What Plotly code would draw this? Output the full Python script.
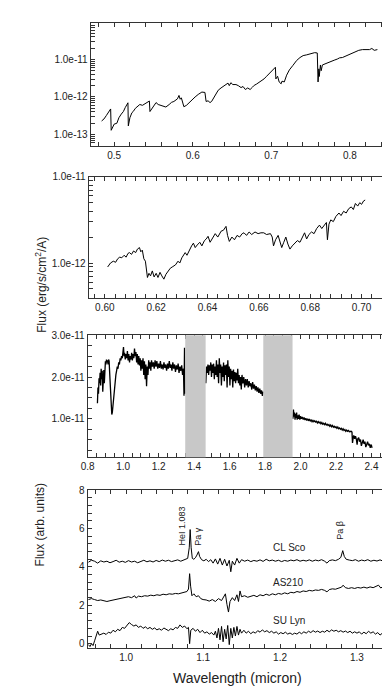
import plotly.graph_objects as go

# ---- panel 1: optical spectrum (micron, 1e-12 erg/s/cm2/A) ----
wl1 = [0.484, 0.487, 0.490, 0.493, 0.4955, 0.4962, 0.498, 0.500, 0.5034, 0.506, 0.509, 0.5117,
       0.514, 0.516, 0.5175, 0.518, 0.520, 0.5225, 0.5242, 0.527, 0.530, 0.5326, 0.536, 0.539,
       0.542, 0.5448, 0.5455, 0.548, 0.551, 0.5533, 0.556, 0.560, 0.5658, 0.570, 0.573, 0.576,
       0.5783, 0.5805, 0.5825, 0.584, 0.5855, 0.5887, 0.592, 0.596, 0.599, 0.603, 0.607, 0.6116,
       0.6155, 0.617, 0.6195, 0.622, 0.624, 0.628, 0.6324, 0.636, 0.639, 0.642, 0.6449, 0.6465,
       0.6485, 0.651, 0.655, 0.658, 0.6615, 0.664, 0.667, 0.670, 0.673, 0.676, 0.6782, 0.681,
       0.684, 0.687, 0.6907, 0.694, 0.697, 0.700, 0.703, 0.7052, 0.7058, 0.708, 0.710, 0.7125,
       0.7136, 0.7165, 0.7195, 0.723, 0.7275, 0.7322, 0.7365, 0.7405, 0.745, 0.750, 0.7552,
       0.7585, 0.7595, 0.7605, 0.761, 0.7625, 0.7635, 0.765, 0.768, 0.771, 0.7739, 0.777, 0.780,
       0.784, 0.787, 0.7905, 0.795, 0.800, 0.805, 0.8113, 0.816, 0.821, 0.825, 0.828, 0.831, 0.835]
f1 = [0.23, 0.26, 0.32, 0.40, 0.48, 0.13, 0.16, 0.19, 0.20, 0.28, 0.35, 0.41,
      0.52, 0.63, 0.70, 0.17, 0.28, 0.38, 0.41, 0.50, 0.56, 0.63, 0.60, 0.66,
      0.69, 0.78, 0.41, 0.50, 0.60, 0.71, 0.63, 0.58, 0.54, 0.63, 0.72, 0.76,
      0.81, 0.89, 1.10, 0.87, 0.95, 0.55, 0.60, 0.74, 0.81, 1.00, 1.17, 1.35,
      1.32, 0.76, 0.79, 0.71, 0.76, 1.10, 1.51, 1.74, 1.90, 2.09, 2.34, 2.00,
      2.40, 2.14, 2.14, 2.00, 1.78, 1.90, 1.58, 1.74, 1.58, 1.82, 2.04, 2.19,
      2.40, 2.63, 3.02, 3.55, 4.17, 4.68, 5.37, 6.17, 3.02, 3.55, 2.51, 2.24,
      2.63, 2.51, 3.80, 5.25, 6.92, 9.33, 11.2, 12.6, 13.2, 13.8, 15.1,
      14.8, 2.51, 5.6, 3.5, 7.1, 5.0, 7.1, 7.6, 7.9, 8.3, 8.9, 9.5,
      10.2, 11.0, 11.2, 12.3, 13.5, 15.1, 17.4, 18.2, 18.6, 18.2, 19.5, 17.4, 18.2]

# ---- panel 2: zoom 0.60-0.70 micron (1e-12 erg/s/cm2/A) ----
wl2 = [0.6011, 0.6022, 0.6033, 0.6042, 0.6050, 0.6058, 0.6066, 0.6075, 0.6083, 0.6090, 0.6096,
       0.6104, 0.6112, 0.6120, 0.6127, 0.6135, 0.6140, 0.6146, 0.6152, 0.6158, 0.6166, 0.6172,
       0.6178, 0.6185, 0.6192, 0.6200, 0.6207, 0.6215, 0.6222, 0.6230, 0.6238, 0.6245, 0.6255,
       0.6265, 0.6275, 0.6285, 0.6292, 0.6300, 0.6308, 0.6313, 0.6320, 0.6330, 0.6338, 0.6345,
       0.6352, 0.6360, 0.6370, 0.6378, 0.6388, 0.6395, 0.6402, 0.6410, 0.6420, 0.6430, 0.6440,
       0.6453, 0.6462, 0.6472, 0.6478, 0.6485, 0.6495, 0.6505, 0.6515, 0.6525, 0.6535, 0.6542,
       0.6552, 0.6562, 0.6572, 0.6585, 0.6597, 0.6608, 0.6619, 0.6630, 0.6645, 0.6652, 0.6657,
       0.6665, 0.6675, 0.6683, 0.6689, 0.6697, 0.6705, 0.6713, 0.6721, 0.6730, 0.6740, 0.6750,
       0.6760, 0.6770, 0.6778, 0.6786, 0.6795, 0.6805, 0.6815, 0.6825, 0.6836, 0.6845, 0.6855,
       0.6863, 0.6867, 0.6873, 0.6880, 0.6890, 0.6900, 0.6912, 0.6920, 0.6930, 0.6940, 0.6950,
       0.6960, 0.6968, 0.6976, 0.6985, 0.6993, 0.7000, 0.7008, 0.7014]
f2 = [0.90, 1.00, 1.05, 1.02, 1.12, 1.17, 1.15, 1.23, 1.17, 1.29, 1.32,
      1.26, 1.38, 1.32, 1.45, 1.51, 1.35, 1.41, 1.12, 1.05, 0.68, 0.76,
      0.71, 0.81, 0.69, 0.76, 0.68, 0.78, 0.71, 0.65, 0.74, 0.79, 0.87,
      0.91, 0.95, 1.05, 1.00, 1.15, 1.26, 1.32, 1.23, 1.45, 1.58, 1.70,
      1.51, 1.62, 1.74, 1.58, 1.82, 1.90, 2.04, 1.74, 1.95, 2.19, 2.00,
      2.34, 2.40, 2.66, 2.09, 1.78, 2.00, 1.86, 2.09, 2.00, 2.19, 2.24,
      2.09, 2.29, 2.14, 2.29, 2.19, 2.24, 2.24, 2.14, 2.19, 2.00, 1.58,
      1.86, 2.09, 1.74, 1.51, 1.74, 2.00, 1.66, 1.45, 1.58, 1.70, 1.82,
      1.74, 2.00, 2.24, 1.90, 2.14, 2.29, 2.19, 2.51, 2.75, 2.51, 2.75,
      2.95, 1.86, 2.82, 3.16, 3.02, 3.47, 3.80, 3.55, 3.98, 3.80, 4.27,
      4.47, 4.17, 4.90, 4.57, 5.01, 4.79, 5.25, 5.37]

# ---- panel 3: near-IR spectrum (1e-11 erg/s/cm2/A), None = telluric gaps ----
wl3 = [0.855, 0.858, 0.861, 0.864, 0.867, 0.870, 0.873, 0.876, 0.879, 0.882, 0.885, 0.888,
       0.891, 0.894, 0.897, 0.900, 0.903, 0.906, 0.909, 0.912, 0.915, 0.918, 0.921, 0.924,
       0.927, 0.930, 0.933, 0.936, 0.939, 0.942, 0.945, 0.948, 0.951, 0.955, 0.959, 0.963,
       0.967, 0.971, 0.975, 0.979, 0.983, 0.987, 0.991, 0.995, 0.999, 1.002, 1.005, 1.008,
       1.012, 1.016, 1.020, 1.024, 1.028, 1.032, 1.036, 1.040, 1.044, 1.048, 1.052, 1.056,
       1.060, 1.064, 1.068, 1.072, 1.076, 1.080, 1.084, 1.088, 1.092, 1.096, 1.100, 1.104,
       1.108, 1.112, 1.116, 1.120, 1.124, 1.128, 1.132, 1.136, 1.140, 1.144, 1.148, 1.152,
       1.156, 1.160, 1.165, 1.170, 1.175, 1.180, 1.185, 1.190, 1.195, 1.200, 1.205, 1.210,
       1.215, 1.220, 1.225, 1.230, 1.235, 1.240, 1.245, 1.250, 1.255, 1.260, 1.265, 1.270,
       1.275, 1.280, 1.285, 1.290, 1.295, 1.300, 1.305, 1.310, 1.315, 1.320, 1.325, 1.330,
       1.335, 1.340, 1.343, 1.346, 1.348, None,
       1.466, 1.470, 1.474, 1.478, 1.482, 1.486, 1.490, 1.494, 1.498, 1.502, 1.506, 1.510,
       1.514, 1.518, 1.522, 1.526, 1.530, 1.534, 1.538, 1.542, 1.546, 1.550, 1.554, 1.558,
       1.562, 1.566, 1.570, 1.574, 1.578, 1.582, 1.586, 1.590, 1.594, 1.598, 1.602, 1.606,
       1.610, 1.614, 1.618, 1.622, 1.626, 1.630, 1.634, 1.638, 1.642, 1.646, 1.650, 1.654,
       1.658, 1.662, 1.666, 1.670, 1.675, 1.680, 1.685, 1.690, 1.695, 1.700, 1.705, 1.710,
       1.715, 1.720, 1.725, 1.730, 1.735, 1.740, 1.745, 1.750, 1.755, 1.760, 1.765, 1.770,
       1.775, 1.780, 1.785, 1.789, None,
       1.957, 1.960, 1.963, 1.966, 1.969, 1.972, 1.975, 1.978, 1.981, 1.984, 1.988, 1.992,
       1.996, 2.000, 2.005, 2.010, 2.015, 2.020, 2.025, 2.030, 2.035, 2.040, 2.045, 2.050,
       2.055, 2.060, 2.065, 2.070, 2.075, 2.080, 2.085, 2.090, 2.095, 2.100, 2.105, 2.110,
       2.115, 2.120, 2.125, 2.130, 2.135, 2.140, 2.145, 2.150, 2.155, 2.160, 2.165, 2.170,
       2.175, 2.180, 2.185, 2.190, 2.195, 2.200, 2.205, 2.210, 2.215, 2.220, 2.225, 2.230,
       2.235, 2.240, 2.245, 2.250, 2.255, 2.260, 2.265, 2.270, 2.275, 2.280, 2.285, 2.290,
       2.293, 2.297, 2.300, 2.305, 2.310, 2.315, 2.319, 2.323, 2.328, 2.333, 2.338, 2.343,
       2.348, 2.353, 2.358, 2.363, 2.368, 2.373, 2.378, 2.383, 2.388, 2.393, 2.397, 2.400, 2.403]
f3 = [1.37, 1.75, 1.60, 1.97, 1.85, 2.10, 1.80, 2.20, 1.95, 2.15, 1.65, 1.90,
      2.17, 1.85, 2.25, 2.38, 2.30, 2.42, 2.35, 2.40, 2.30, 2.42, 2.38, 2.10,
      1.80, 1.45, 1.20, 1.10, 1.15, 1.30, 1.45, 1.60, 1.80, 1.95, 2.05, 2.15,
      2.25, 2.20, 2.35, 2.30, 2.45, 2.40, 2.50, 2.45, 2.60, 2.72, 2.50, 2.58,
      2.42, 2.55, 2.45, 2.62, 2.40, 2.55, 2.35, 2.50, 2.42, 2.58, 2.40, 2.55,
      2.45, 2.68, 2.50, 2.60, 2.35, 2.55, 2.30, 2.50, 2.28, 2.45, 2.15, 2.40,
      2.20, 2.45, 2.05, 2.38, 1.95, 2.30, 1.78, 2.25, 2.05, 2.40, 2.20, 2.35,
      2.15, 2.40, 2.25, 2.35, 2.20, 2.40, 2.25, 2.38, 2.20, 2.32, 2.22, 2.38,
      2.20, 2.30, 2.18, 2.35, 2.22, 2.30, 2.15, 2.32, 2.20, 2.38, 2.22, 2.30,
      2.15, 2.35, 2.20, 2.30, 2.12, 2.28, 2.18, 2.32, 2.10, 2.25, 2.15, 2.28,
      2.05, 2.20, 1.55, 2.70, 1.60, None,
      1.85, 2.25, 2.10, 2.30, 2.05, 2.28, 2.15, 2.35, 2.00, 2.30, 2.10, 2.32,
      1.95, 2.25, 2.05, 2.40, 2.00, 2.30, 1.85, 2.45, 2.10, 2.30, 1.80, 2.25,
      2.00, 2.35, 1.90, 2.28, 2.05, 2.30, 1.75, 2.40, 2.00, 2.25, 1.80, 2.20,
      1.95, 2.15, 1.75, 2.18, 1.90, 2.12, 1.85, 2.10, 1.92, 2.20, 1.85, 2.05,
      1.80, 2.00, 1.70, 2.05, 1.85, 2.00, 1.75, 1.95, 1.80, 1.95, 1.75, 1.90,
      1.78, 1.85, 1.70, 1.88, 1.72, 1.82, 1.68, 1.78, 1.65, 1.75, 1.62, 1.72,
      1.60, 1.68, 1.55, 1.65, None,
      1.00, 1.22, 1.05, 1.15, 0.98, 1.12, 1.02, 1.15, 0.98, 1.08, 1.00, 1.10,
      0.98, 1.06, 1.00, 1.04, 0.98, 1.03, 0.97, 1.01, 0.96, 1.00, 0.95, 0.99,
      0.95, 0.97, 0.93, 0.96, 0.93, 0.95, 0.92, 0.94, 0.90, 0.93, 0.90, 0.92,
      0.88, 0.91, 0.87, 0.89, 0.86, 0.89, 0.85, 0.87, 0.84, 0.86, 0.82, 0.85,
      0.81, 0.84, 0.80, 0.82, 0.79, 0.81, 0.77, 0.80, 0.76, 0.78, 0.75, 0.77,
      0.73, 0.76, 0.72, 0.74, 0.70, 0.73, 0.70, 0.72, 0.69, 0.70, 0.70, 0.68,
      0.42, 0.55, 0.60, 0.52, 0.58, 0.50, 0.38, 0.52, 0.55, 0.45, 0.50, 0.35,
      0.48, 0.50, 0.40, 0.45, 0.32, 0.42, 0.45, 0.36, 0.40, 0.30, 0.38, 0.36, 0.30]
gaps3 = [(1.35, 1.465), (1.79, 1.955)]

# ---- panel 4: normalised J-band spectra (arb. units, offset) ----
wl_cl = [0.951, 0.955, 0.959, 0.963, 0.967, 0.971, 0.975, 0.979, 0.983, 0.987, 0.991, 0.995,
         0.999, 1.003, 1.007, 1.011, 1.015, 1.019, 1.023, 1.027, 1.031, 1.035, 1.039, 1.043,
         1.047, 1.051, 1.055, 1.059, 1.063, 1.067, 1.071, 1.075, 1.078, 1.080, 1.082, 1.0832,
         1.0845, 1.086, 1.088, 1.090, 1.092, 1.094, 1.0955, 1.098, 1.101, 1.104, 1.107, 1.110,
         1.113, 1.116, 1.119, 1.122, 1.125, 1.128, 1.131, 1.134, 1.136, 1.138, 1.141, 1.144,
         1.147, 1.150, 1.154, 1.158, 1.162, 1.166, 1.170, 1.174, 1.178, 1.182, 1.186, 1.190,
         1.194, 1.198, 1.202, 1.206, 1.210, 1.214, 1.218, 1.222, 1.226, 1.230, 1.234, 1.238,
         1.242, 1.246, 1.250, 1.254, 1.258, 1.261, 1.264, 1.268, 1.272, 1.276, 1.279, 1.2815,
         1.2835, 1.286, 1.290, 1.294, 1.298, 1.302, 1.306, 1.310, 1.314, 1.318, 1.322, 1.326,
         1.330, 1.334, 1.338]
f_cl = [4.25, 4.35, 4.30, 4.20, 4.32, 4.26, 4.30, 4.22, 4.28, 4.35, 4.25, 4.30,
        4.24, 4.33, 4.26, 4.30, 4.22, 4.28, 4.35, 4.27, 4.32, 4.26, 4.34, 4.28,
        4.36, 4.30, 4.35, 4.28, 4.33, 4.37, 4.30, 4.36, 4.40, 4.45, 5.00, 5.95,
        5.00, 4.45, 4.40, 4.48, 4.62, 4.80, 4.55, 4.38, 4.32, 4.40, 4.28, 4.38,
        4.20, 4.42, 4.15, 4.45, 4.10, 4.40, 4.05, 4.35, 3.75, 4.30, 4.10, 4.45,
        4.20, 4.38, 4.30, 4.36, 4.28, 4.34, 4.30, 4.37, 4.29, 4.40, 4.32, 4.36,
        4.30, 4.35, 4.28, 4.34, 4.30, 4.36, 4.32, 4.38, 4.30, 4.35, 4.31, 4.37,
        4.30, 4.36, 4.32, 4.38, 4.30, 4.20, 4.33, 4.37, 4.33, 4.40, 4.50, 4.85,
        4.55, 4.40, 4.36, 4.33, 4.38, 4.30, 4.36, 4.32, 4.38, 4.30, 4.35, 4.31,
        4.37, 4.30, 4.35]

wl_as = [0.951, 0.955, 0.959, 0.963, 0.967, 0.971, 0.975, 0.979, 0.983, 0.987, 0.991, 0.995,
         0.999, 1.003, 1.007, 1.011, 1.013, 1.016, 1.020, 1.024, 1.028, 1.032, 1.036, 1.040,
         1.044, 1.048, 1.052, 1.056, 1.060, 1.064, 1.068, 1.072, 1.076, 1.079, 1.081, 1.0825,
         1.0838, 1.0855, 1.088, 1.091, 1.094, 1.097, 1.100, 1.104, 1.108, 1.112, 1.116, 1.120,
         1.124, 1.127, 1.129, 1.131, 1.133, 1.135, 1.138, 1.141, 1.144, 1.146, 1.148, 1.150,
         1.154, 1.158, 1.162, 1.166, 1.170, 1.174, 1.178, 1.182, 1.186, 1.190, 1.194, 1.198,
         1.202, 1.206, 1.210, 1.214, 1.218, 1.222, 1.226, 1.230, 1.234, 1.238, 1.242, 1.246,
         1.250, 1.254, 1.258, 1.261, 1.264, 1.268, 1.272, 1.276, 1.280, 1.282, 1.285, 1.289,
         1.293, 1.297, 1.301, 1.305, 1.309, 1.313, 1.317, 1.321, 1.325, 1.328, 1.331, 1.334, 1.338]
f_as = [2.30, 2.35, 2.30, 2.25, 2.28, 2.22, 2.20, 2.24, 2.28, 2.32, 2.35, 2.38,
        2.42, 2.45, 2.40, 2.50, 2.38, 2.48, 2.45, 2.50, 2.48, 2.53, 2.50, 2.55,
        2.52, 2.58, 2.55, 2.60, 2.58, 2.62, 2.60, 2.65, 2.68, 2.72, 2.85, 3.65,
        3.00, 2.50, 2.60, 2.45, 2.50, 2.35, 2.30, 2.28, 2.22, 2.30, 2.20, 2.35,
        2.25, 2.45, 2.60, 2.05, 1.65, 2.20, 2.40, 2.25, 2.55, 2.20, 2.75, 2.45,
        2.50, 2.42, 2.48, 2.52, 2.45, 2.55, 2.50, 2.58, 2.52, 2.60, 2.55, 2.62,
        2.58, 2.65, 2.60, 2.68, 2.65, 2.72, 2.68, 2.75, 2.72, 2.78, 2.75, 2.80,
        2.78, 2.83, 2.78, 2.70, 2.82, 2.86, 2.84, 2.90, 2.95, 3.05, 2.92, 2.88,
        2.92, 2.88, 2.93, 2.90, 2.95, 2.90, 2.96, 2.92, 2.98, 3.05, 2.90, 3.00, 2.95]

wl_su = [0.951, 0.953, 0.955, 0.957, 0.959, 0.961, 0.963, 0.965, 0.968, 0.971, 0.974, 0.977,
         0.980, 0.983, 0.986, 0.989, 0.992, 0.995, 0.998, 1.001, 1.004, 1.007, 1.010, 1.013,
         1.016, 1.019, 1.022, 1.025, 1.028, 1.031, 1.034, 1.037, 1.040, 1.043, 1.046, 1.049,
         1.052, 1.055, 1.058, 1.061, 1.064, 1.067, 1.070, 1.073, 1.076, 1.079, 1.081, 1.0825,
         1.084, 1.087, 1.090, 1.093, 1.096, 1.099, 1.102, 1.105, 1.108, 1.111, 1.114, 1.116,
         1.118, 1.120, 1.122, 1.124, 1.126, 1.128, 1.130, 1.132, 1.134, 1.136, 1.138, 1.140,
         1.142, 1.144, 1.146, 1.148, 1.150, 1.153, 1.156, 1.159, 1.162, 1.165, 1.168, 1.171,
         1.174, 1.177, 1.180, 1.183, 1.186, 1.189, 1.192, 1.195, 1.198, 1.201, 1.204, 1.207,
         1.210, 1.213, 1.216, 1.219, 1.222, 1.225, 1.228, 1.231, 1.234, 1.237, 1.240, 1.243,
         1.246, 1.249, 1.252, 1.255, 1.258, 1.261, 1.264, 1.267, 1.270, 1.273, 1.276, 1.279,
         1.282, 1.285, 1.288, 1.291, 1.294, 1.297, 1.300, 1.303, 1.306, 1.309, 1.312, 1.315,
         1.318, 1.321, 1.324, 1.327, 1.330, 1.333, 1.336, 1.338]
f_su = [-0.05, -0.15, 0.00, -0.10, 0.15, 0.45, 0.65, 0.45, 0.50, 0.55, 0.48, 0.60,
        0.55, 0.70, 0.62, 0.75, 0.68, 0.85, 0.80, 0.95, 1.10, 1.00, 0.92, 0.98,
        0.85, 0.92, 0.80, 0.88, 0.78, 0.85, 0.75, 0.82, 0.72, 0.78, 0.70, 0.82,
        0.75, 0.68, 0.78, 0.72, 0.85, 0.80, 0.98, 0.85, 0.92, 0.78, 0.85, 0.00,
        0.70, 0.80, 0.65, 0.75, 0.58, 0.70, 0.55, 0.62, 0.50, 0.58, 0.45, 0.65,
        0.30, 0.80, 0.20, 0.90, 0.10, 0.75, 0.25, 0.95, -0.05, 0.80, 0.30, 0.85,
        0.40, 0.90, 0.45, 0.75, 0.55, 0.70, 0.55, 0.65, 0.52, 0.62, 0.55, 0.68,
        0.60, 0.72, 0.62, 0.68, 0.58, 0.65, 0.55, 0.62, 0.50, 0.58, 0.52, 0.60,
        0.50, 0.56, 0.48, 0.55, 0.50, 0.60, 0.52, 0.62, 0.55, 0.65, 0.58, 0.68,
        0.60, 0.66, 0.58, 0.65, 0.60, 0.70, 0.62, 0.72, 0.65, 0.70, 0.62, 0.68,
        0.60, 0.66, 0.58, 0.65, 0.55, 0.62, 0.55, 0.62, 0.50, 0.60, 0.52, 0.65,
        0.55, 0.62, 0.50, 0.58, 0.45, 0.55, 0.40, 0.50]

star_names = ["CL Sco", "AS210", "SU Lyn"]
star_label_y = [5.0, 3.18, 1.22]
lines4 = [("HeI 1.083", 1.073, 5.0), ("Pa \u03b3", 1.094, 5.0), ("Pa \u03b2", 1.277, 5.3)]

FONT = "Liberation Sans, Arial, sans-serif"
AX = "#333333"
W, H = 390, 698


def px_x(a, b):
    return [a / W, b / W]


def px_y(top, bottom):
    return [1 - bottom / H, 1 - top / H]


def steps(start, stop, step):
    out, k = [], 0
    while start + k * step <= stop + 1e-15:
        out.append(round(start + k * step, 16))
        k += 1
    return out


def ticks_arr(major, labels, minor):
    # major + minor tick positions in one array; minors get empty labels
    vals = list(major)
    text = list(labels)
    for v in minor:
        if all(abs(v - m) > 1e-9 * max(abs(m), 1e-30) for m in major):
            vals.append(v)
            text.append("")
    return dict(tickmode="array", tickvals=vals, ticktext=text)


def axis(domain, anchor, major, labels, minor, **kw):
    base = dict(domain=domain, anchor=anchor, showline=True, linecolor=AX, linewidth=1,
                mirror="allticks", ticks="inside", ticklen=4, tickcolor=AX, tickwidth=1,
                showgrid=False, zeroline=False,
                tickfont=dict(family=FONT, size=10, color="#222222"))
    base.update(ticks_arr(major, labels, minor))
    base.update(kw)
    return base


def log_minors(e0, e1):
    return [m * 10.0 ** e for e in range(e0, e1) for m in range(2, 10)]


fig = go.Figure()
line = dict(color="black", width=1)
fig.add_trace(go.Scatter(x=wl1, y=[v * 1e-12 for v in f1], mode="lines", line=line,
                         xaxis="x", yaxis="y"))
fig.add_trace(go.Scatter(x=wl2, y=[v * 1e-12 for v in f2], mode="lines", line=line,
                         xaxis="x2", yaxis="y2"))
fig.add_trace(go.Scatter(x=wl3, y=[None if v is None else v * 1e-11 for v in f3], mode="lines",
                         line=dict(color="black", width=1.3), connectgaps=False,
                         xaxis="x3", yaxis="y3"))
for wl, fl in [(wl_cl, f_cl), (wl_as, f_as), (wl_su, f_su)]:
    fig.add_trace(go.Scatter(x=wl, y=fl, mode="lines", line=line, xaxis="x4", yaxis="y4"))

for a, b in gaps3:
    fig.add_shape(type="rect", xref="x3", yref="y3 domain", x0=a, x1=b, y0=0, y1=1,
                  fillcolor="#c8c8c8", line=dict(width=0), layer="above")

x1_major = [0.5, 0.6, 0.7, 0.8]
x2_major = [0.60, 0.62, 0.64, 0.66, 0.68, 0.70]
x3_major = [0.8, 1.0, 1.2, 1.4, 1.6, 1.8, 2.0, 2.2, 2.4]
x4_major = [1.0, 1.1, 1.2, 1.3]
y1_major = [1e-13, 1e-12, 1e-11]
y2_major = [1e-12, 1e-11]
y3_major = [1e-11, 2e-11, 3e-11]
y4_major = [0, 2, 4, 6, 8]

fig.update_layout(
    width=W, height=H, margin=dict(l=0, r=0, t=0, b=0),
    paper_bgcolor="white", plot_bgcolor="white", showlegend=False,
    xaxis=axis(px_x(77, 381), "y", x1_major, ["%.1f" % v for v in x1_major],
               steps(0.48, 0.84, 0.02), range=[0.47, 0.85]),
    yaxis=axis(px_y(10, 134), "x", y1_major, ["%.1e" % v for v in y1_major],
               log_minors(-14, -10), type="log", range=[-13.3, -10.03]),
    xaxis2=axis(px_x(75, 378), "y2", x2_major, ["%.2f" % v for v in x2_major],
                steps(0.596, 0.708, 0.004), range=[0.5937, 0.7096]),
    yaxis2=axis(px_y(165, 287), "x2", y2_major, ["%.1e" % v for v in y2_major],
                log_minors(-13, -11), type="log", range=[-12.4, -10.998]),
    xaxis3=axis(px_x(74, 378), "y3", x3_major, ["%.1f" % v for v in x3_major],
                steps(0.8, 2.45, 0.05), range=[0.8, 2.483]),
    yaxis3=axis(px_y(325, 448), "x3", y3_major, ["%.1e" % v for v in y3_major],
                steps(0.25e-11, 3e-11, 0.25e-11), range=[0.08e-11, 3.002e-11]),
    xaxis4=axis(px_x(74, 378), "y4", x4_major, ["%.1f" % v for v in x4_major],
                steps(0.96, 1.33, 0.02), range=[0.95, 1.338]),
    yaxis4=axis(px_y(481, 641), "x4", y4_major, [str(v) for v in y4_major],
                steps(0.0, 8.0, 0.4), range=[-0.25, 8.02]),
)

ann = []
ann.append(dict(text="Flux (erg/s/cm<sup>2</sup>/A)", x=16 / W, y=1 - 224 / H, xref="paper",
                yref="paper", showarrow=False, textangle=-90,
                font=dict(family=FONT, size=12, color="#222222")))
ann.append(dict(text="Flux (arb. units)", x=16 / W, y=1 - 560 / H, xref="paper",
                yref="paper", showarrow=False, textangle=-90,
                font=dict(family=FONT, size=12, color="#222222")))
ann.append(dict(text="Wavelength (micron)", x=227 / W, y=1 - 681 / H, xref="paper",
                yref="paper", showarrow=False,
                font=dict(family=FONT, size=14, color="#222222")))
for name, yv in zip(star_names, star_label_y):
    ann.append(dict(text=name, x=1.188, y=yv, xref="x4", yref="y4", showarrow=False,
                    xanchor="left", font=dict(family=FONT, size=10, color="#222222")))
for txt, xv, yv in lines4:
    ann.append(dict(text=txt, x=xv, y=yv, xref="x4", yref="y4", showarrow=False,
                    textangle=-90, yanchor="bottom",
                    font=dict(family=FONT, size=9, color="#222222")))
fig.update_layout(annotations=ann)

fig.write_html("out.html")
